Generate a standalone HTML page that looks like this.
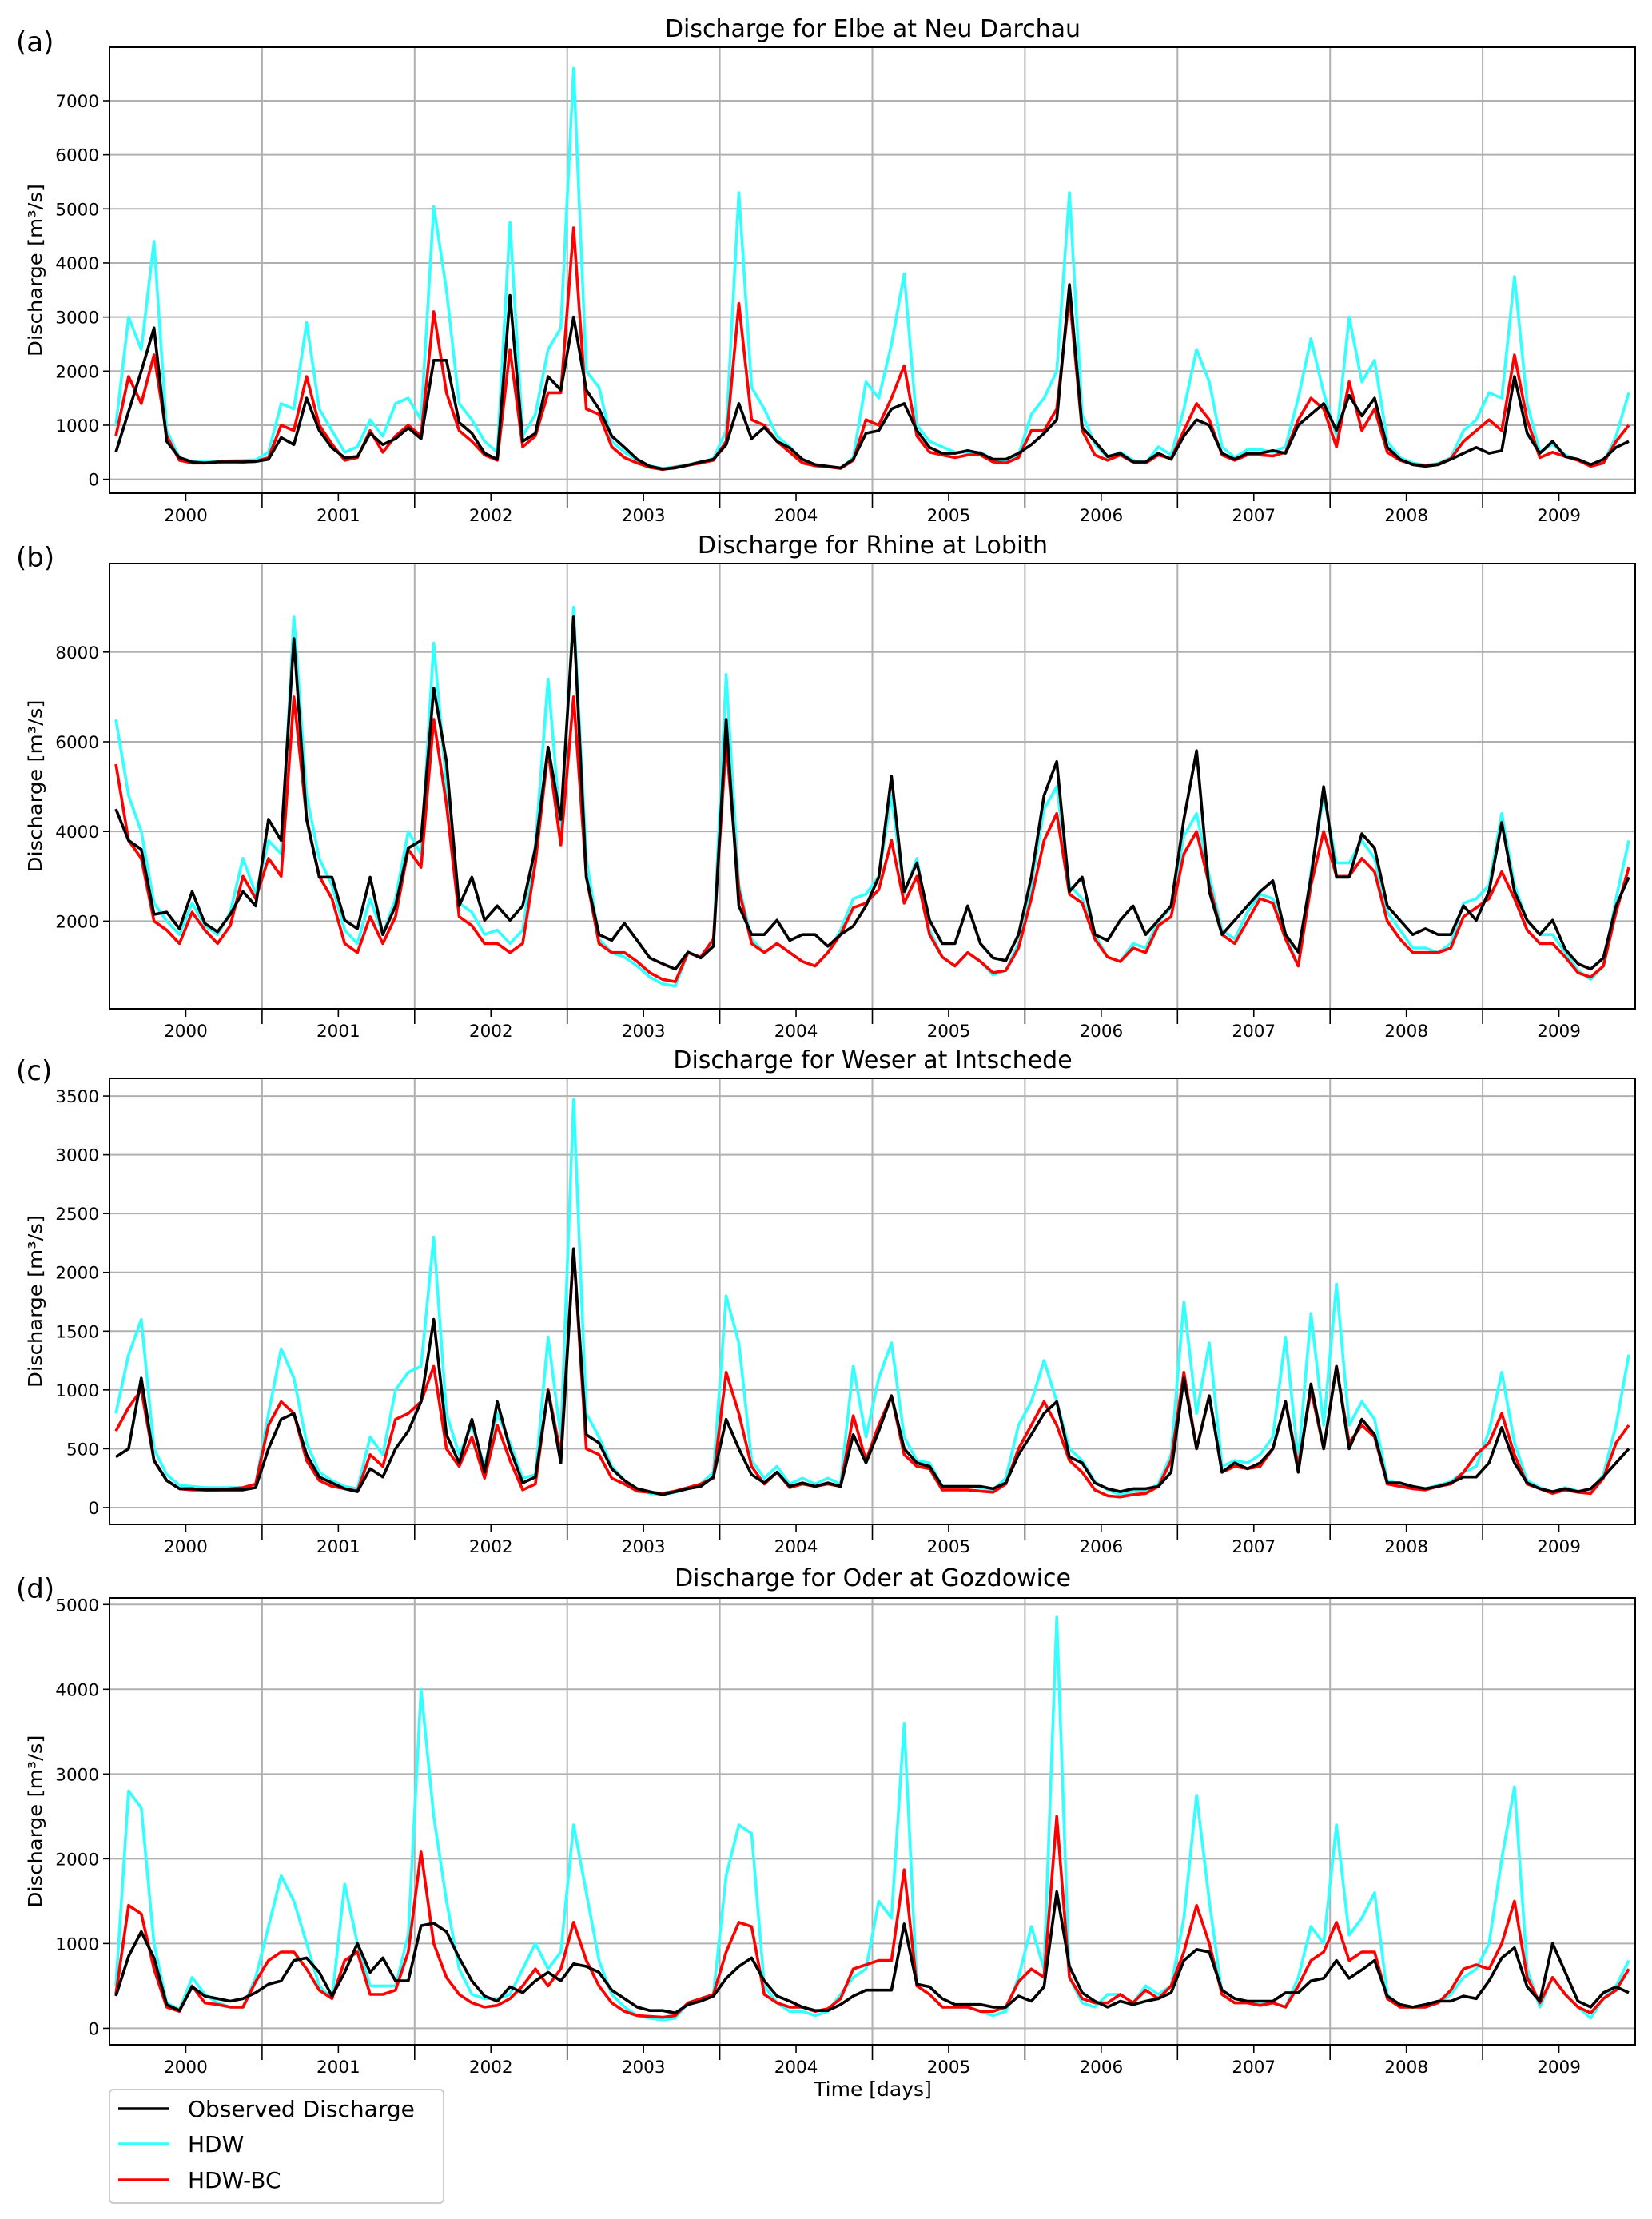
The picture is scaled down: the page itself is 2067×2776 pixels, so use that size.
<!DOCTYPE html>
<html><head><meta charset="utf-8"><style>
html,body{margin:0;padding:0;background:#fff;}
svg{display:block;font-family:"DejaVu Sans","Liberation Sans",sans-serif;}
</style></head><body>
<svg id="fig" xmlns="http://www.w3.org/2000/svg" width="2067" height="2776" viewBox="0 0 2067 2776">
<rect x="0" y="0" width="2067" height="2776" fill="#fff"/>
<g>
<rect x="137" y="2614" width="418" height="142" rx="5" fill="#fff" stroke="#cccccc" stroke-width="2"/>
<line x1="148" y1="2638" x2="212" y2="2638" stroke="#000" stroke-width="3.5"/>
<text x="235" y="2648" font-size="28">Observed Discharge</text>
<line x1="148" y1="2682" x2="212" y2="2682" stroke="#33ffff" stroke-width="3.5"/>
<text x="235" y="2692" font-size="28">HDW</text>
<line x1="148" y1="2727" x2="212" y2="2727" stroke="#ff0000" stroke-width="3.5"/>
<text x="235" y="2737" font-size="28">HDW-BC</text>
</g>
<text x="1092" y="2622" font-size="25" text-anchor="middle">Time [days]</text>
</svg>
<script>
const startYear = 1999.5;
const yearLabels = ["2000","2001","2002","2003","2004","2005","2006","2007","2008","2009"];
const panelTitles = ["Discharge for Elbe at Neu Darchau","Discharge for Rhine at Lobith","Discharge for Weser at Intschede","Discharge for Oder at Gozdowice"];
const panelLetters = ["(a)","(b)","(c)","(d)"];
const elbeTicks = [0,1000,2000,3000,4000,5000,6000,7000];
const rhineTicks = [2000,4000,6000,8000];
const weserTicks = [0,500,1000,1500,2000,2500,3000,3500];
const oderTicks = [0,1000,2000,3000,4000,5000];

const elbeObs = [500,1250,2000,2800,700,400,320,300,320,320,320,330, 370,770,640,1500,900,580,400,420,850,640,750,950, 750,2200,2200,1050,850,480,370,3400,700,850,1900,1650, 3000,1650,1300,800,590,370,240,190,210,260,320,370, 640,1400,750,960,700,580,370,270,240,210,370,850, 900,1300,1400,900,590,480,480,530,480,370,370,480, 640,850,1100,3600,960,700,420,480,320,320,480,370, 800,1100,1000,480,370,480,480,530,480,1000,1200,1400, 900,1550,1170,1500,590,370,270,240,270,370,480,590, 480,530,1900,850,480,700,420,370,270,370,590,700];
const elbeHdw = [1000,3000,2400,4400,900,400,330,320,330,340,350,360, 500,1400,1300,2900,1300,900,500,600,1100,800,1400,1500, 1100,5050,3500,1400,1100,700,500,4750,800,1200,2400,2800, 7600,2000,1700,700,500,350,250,200,230,270,320,380, 900,5300,1700,1300,800,600,350,250,230,200,400,1800, 1500,2500,3800,1000,700,600,500,500,500,350,330,450, 1200,1500,2000,5300,1200,650,400,500,350,300,600,450, 1300,2400,1800,600,400,550,550,500,600,1500,2600,1600, 800,3000,1800,2200,700,400,300,260,290,400,900,1100, 1600,1500,3750,1400,500,650,450,350,240,300,800,1600];
const elbeBc = [800,1900,1400,2300,800,350,300,300,320,330,320,330, 400,1000,900,1900,1000,650,350,400,900,500,800,1000, 800,3100,1600,900,700,450,350,2400,600,800,1600,1600, 4650,1300,1200,600,400,300,220,180,220,260,300,350, 700,3250,1100,1000,700,500,300,250,230,200,350,1100, 1000,1500,2100,800,500,450,400,450,450,320,300,400, 900,900,1300,3400,900,450,350,450,320,300,450,380, 900,1400,1100,450,350,450,450,430,500,1100,1500,1300, 600,1800,900,1300,500,350,280,250,280,380,700,900, 1100,900,2300,1100,400,500,420,350,240,300,700,1000];

const rhineObs = [4500,3800,3600,2150,2200,1830,2660,1950,1760,2150,2660,2340, 4270,3800,8300,4270,2980,2980,2020,1830,2980,1700,2340,3630, 3800,7200,5560,2340,2980,2020,2340,2020,2340,3630,5880,4270, 8800,2980,1700,1570,1950,1570,1180,1050,930,1310,1180,1440, 6500,2340,1700,1700,2020,1570,1700,1700,1440,1700,1890,2340, 2980,5230,2660,3300,2020,1500,1500,2340,1500,1180,1120,1700, 2980,4800,5560,2660,2980,1700,1570,2020,2340,1700,2020,2340, 4270,5800,2660,1700,2020,2340,2660,2900,1700,1310,2980,5000, 2980,2980,3950,3630,2340,2020,1700,1830,1700,1700,2340,2020, 2660,4200,2660,2020,1700,2020,1370,1050,930,1180,2340,2980];
const rhineHdw = [6500,4800,4000,2400,2000,1700,2400,1900,1700,2200,3400,2600, 3800,3500,8800,4800,3400,2800,1800,1500,2500,1700,2500,4000, 3500,8200,5000,2400,2200,1700,1800,1500,1800,3700,7400,4000, 9000,3400,1600,1300,1200,1000,750,600,550,1300,1200,1500, 7500,2800,1600,1300,1500,1300,1100,1000,1300,1800,2500,2600, 3000,4800,2600,3400,1800,1200,1000,1300,1100,800,900,1500, 2800,4500,5000,2800,2500,1700,1200,1100,1500,1400,2000,2300, 3900,4400,3000,1800,1600,2200,2600,2500,1700,1000,3100,4800, 3300,3300,3800,3400,2200,1800,1400,1400,1300,1500,2400,2500, 2800,4400,2800,2000,1700,1700,1300,900,700,1000,2500,3800];
const rhineBc = [5500,3800,3400,2000,1800,1500,2200,1800,1500,1900,3000,2500, 3400,3000,7000,4300,3000,2500,1500,1300,2100,1500,2100,3600, 3200,6500,4600,2100,1900,1500,1500,1300,1500,3300,5800,3700, 7000,3000,1500,1300,1300,1100,850,700,650,1300,1200,1600, 6000,2700,1500,1300,1500,1300,1100,1000,1300,1700,2300,2400, 2700,3800,2400,3000,1700,1200,1000,1300,1100,850,900,1400, 2500,3800,4400,2600,2400,1600,1200,1100,1400,1300,1900,2100, 3500,4000,2800,1700,1500,2000,2500,2400,1600,1000,2800,4000, 3000,3000,3400,3100,2000,1600,1300,1300,1300,1400,2100,2300, 2500,3100,2500,1800,1500,1500,1200,850,750,1000,2200,3200];

const weserObs = [430,500,1100,400,230,160,160,150,150,150,150,170, 500,750,800,450,260,210,160,135,330,260,500,650, 900,1600,620,380,750,300,900,500,210,260,990,380, 2200,620,550,330,230,160,135,110,135,160,180,260, 750,500,280,210,300,180,210,180,210,180,620,380, 650,950,500,380,350,180,180,180,180,160,210,450, 620,800,900,430,380,210,160,135,160,160,180,300, 1100,500,950,300,380,330,380,500,900,300,1050,500, 1200,500,750,620,210,210,180,160,180,210,260,260, 380,680,380,210,160,135,160,135,160,260,380,500];
const weserHdw = [800,1300,1600,500,280,190,180,170,170,170,170,200, 800,1350,1100,550,300,230,180,160,600,450,1000,1150, 1200,2300,800,450,700,350,800,550,250,280,1450,600, 3470,800,600,350,230,160,120,110,130,160,200,300, 1800,1400,400,250,350,200,250,200,250,200,1200,600, 1100,1400,600,400,380,180,180,180,170,150,250,700, 900,1250,900,500,400,220,150,110,140,140,200,450, 1750,800,1400,350,400,380,450,600,1450,400,1650,700, 1900,700,900,750,230,200,180,160,190,220,300,350, 650,1150,550,230,170,130,170,140,130,280,700,1300];
const weserBc = [650,850,1000,400,230,160,150,150,150,160,170,200, 700,900,800,400,230,180,160,140,450,350,750,800, 900,1200,500,350,600,250,700,400,150,200,1000,450, 2200,500,450,250,200,140,130,120,140,170,200,250, 1150,800,350,200,300,170,200,180,200,180,780,400, 700,950,450,350,330,150,150,150,140,130,200,500, 700,900,700,400,300,150,100,90,110,120,180,400, 1150,500,950,300,350,330,350,500,900,350,1000,500, 1200,550,700,600,200,180,160,150,180,200,300,450, 550,800,450,200,160,120,150,130,120,250,550,700];

const oderObs = [380,850,1140,830,280,210,490,380,350,320,350,420, 520,560,800,830,660,380,660,1000,660,830,560,560, 1210,1240,1140,830,560,380,320,490,420,560,660,560, 760,730,660,450,350,250,210,210,180,280,320,380, 590,730,830,560,380,320,250,210,210,280,380,450, 450,450,1230,520,490,350,280,280,280,250,250,380, 320,490,1610,730,420,320,250,320,280,320,350,420, 800,930,900,450,350,320,320,320,420,420,560,590, 800,590,690,800,380,280,250,280,320,320,380,350, 560,830,950,490,320,1000,660,320,250,420,490,420];
const oderHdw = [500,2800,2600,1000,300,220,600,400,300,250,250,600, 1200,1800,1500,1000,500,350,1700,1000,500,500,500,1100, 4000,2500,1500,700,400,350,350,400,700,1000,700,900, 2400,1600,800,400,250,150,120,100,120,300,350,400, 1800,2400,2300,500,300,200,200,150,200,400,600,700, 1500,1300,3600,500,400,250,250,250,200,150,200,600, 1200,700,4850,600,300,250,400,400,300,500,400,500, 1300,2750,1500,400,300,300,280,300,250,600,1200,1000, 2400,1100,1300,1600,400,250,250,250,300,400,600,700, 1000,2000,2850,700,250,600,400,250,120,350,500,800];
const oderBc = [400,1450,1350,700,250,200,500,300,280,250,250,550, 800,900,900,700,450,350,800,900,400,400,450,900, 2080,1000,600,400,300,250,270,350,500,700,500,700, 1250,800,500,300,200,150,140,130,150,300,350,400, 900,1250,1200,400,300,250,250,200,230,350,700,750, 800,800,1870,500,400,250,250,250,200,200,250,550, 700,600,2500,600,350,300,300,400,300,450,350,500, 900,1450,1000,400,300,300,270,300,250,500,800,900, 1250,800,900,900,350,250,250,250,300,450,700,750, 700,1000,1500,600,300,600,400,250,180,350,450,700];

const NS = "http://www.w3.org/2000/svg";
const svg = document.getElementById("fig");
const X0 = 137, X1 = 2046;
function xScale(t){ return X0 + (t - startYear) / 10 * (X1 - X0); }
function mk(tag, attrs, parent){ const e = document.createElementNS(NS, tag); for (const k in attrs) e.setAttribute(k, attrs[k]); (parent||svg).appendChild(e); return e; }

const layouts = [
  {top:59, bottom:617, ymin:-257, ymax:7990, titleY:46, letterY:64, key:"elbe"},
  {top:705, bottom:1262, ymin:46, ymax:9975, titleY:692, letterY:709, key:"rhine"},
  {top:1349, bottom:1907, ymin:-143, ymax:3650, titleY:1336, letterY:1351, key:"weser"},
  {top:1999, bottom:2558, ymin:-194, ymax:5078, titleY:1984, letterY:1999, key:"oder"}
];
const tickSets = [elbeTicks, rhineTicks, weserTicks, oderTicks];
const seriesSets = [[elbeHdw, elbeBc, elbeObs],[rhineHdw, rhineBc, rhineObs],[weserHdw, weserBc, weserObs],[oderHdw, oderBc, oderObs]];
const seriesColors = ["#33ffff","#ff0000","#000000"];
const seriesNames = ["hdw-line","hdw-bc-line","observed-line"];

layouts.forEach((L, p) => {
  const g = mk("g", {});
  
  
  const yScale = v => L.bottom - (v - L.ymin) / (L.ymax - L.ymin) * (L.bottom - L.top);
  const clipId = "clip" + p;
  const cp = mk("clipPath", {id: clipId}, g);
  mk("rect", {x: X0, y: L.top, width: X1 - X0, height: L.bottom - L.top}, cp);
  tickSets[p].forEach(v => {
    const y = yScale(v);
    const gl = mk("line", {x1: X0, x2: X1, y1: y, y2: y, stroke: "#b0b0b0", "stroke-width": 2}, g);
    
    
    mk("line", {x1: X0 - 8, x2: X0, y1: y, y2: y, stroke: "#000", "stroke-width": 1.6}, g);
    const tl = mk("text", {x: X0 - 13, y: y + 8, "font-size": 21.5, "text-anchor": "end"}, g);
    tl.textContent = String(v);
    
    
  });
  for (let k = 0; k < 9; k++) {
    const x = xScale(2000.5 + k);
    const vl = mk("line", {x1: x, x2: x, y1: L.top, y2: L.bottom, stroke: "#b0b0b0", "stroke-width": 2}, g);
    
    
    mk("line", {x1: x, x2: x, y1: L.bottom, y2: L.bottom + 19, stroke: "#000", "stroke-width": 1.6}, g);
  }
  yearLabels.forEach((lab, k) => {
    const x = xScale(2000 + k);
    mk("line", {x1: x, x2: x, y1: L.bottom, y2: L.bottom + 10, stroke: "#000", "stroke-width": 1.6}, g);
    const t = mk("text", {x: x, y: L.bottom + 35, "font-size": 21.5, "text-anchor": "middle"}, g);
    t.textContent = lab;
    
    
  });
  const sg = mk("g", {"clip-path": "url(#" + clipId + ")"}, g);
  seriesSets[p].forEach((arr, s) => {
    let d = "";
    arr.forEach((v, i) => {
      const t = startYear + (i + 0.5) / 12;
      d += (i ? "L" : "M") + xScale(t).toFixed(1) + "," + yScale(v).toFixed(1);
    });
    const path = mk("path", {d: d, fill: "none", stroke: seriesColors[s], "stroke-width": 3.6, "stroke-linejoin": "round"}, sg);
    
    
  });
  const fr = mk("rect", {x: X0, y: L.top, width: X1 - X0, height: L.bottom - L.top, fill: "none", stroke: "#000", "stroke-width": 2}, g);
  
  
  const title = mk("text", {x: 1092, y: L.titleY, "font-size": 30, "text-anchor": "middle"}, g);
  title.textContent = panelTitles[p];
  
  
  const letter = mk("text", {x: 20, y: L.letterY, "font-size": 34}, g);
  letter.textContent = panelLetters[p];
  
  
  const cy = (L.top + L.bottom) / 2;
  const yl = mk("text", {x: 0, y: 0, "font-size": 23, "text-anchor": "middle", transform: "translate(52," + cy + ") rotate(-90)", textLength: 216, lengthAdjust: "spacingAndGlyphs"}, g);
  yl.textContent = "Discharge [m³/s]";
  
  
});
</script>
</body></html>
